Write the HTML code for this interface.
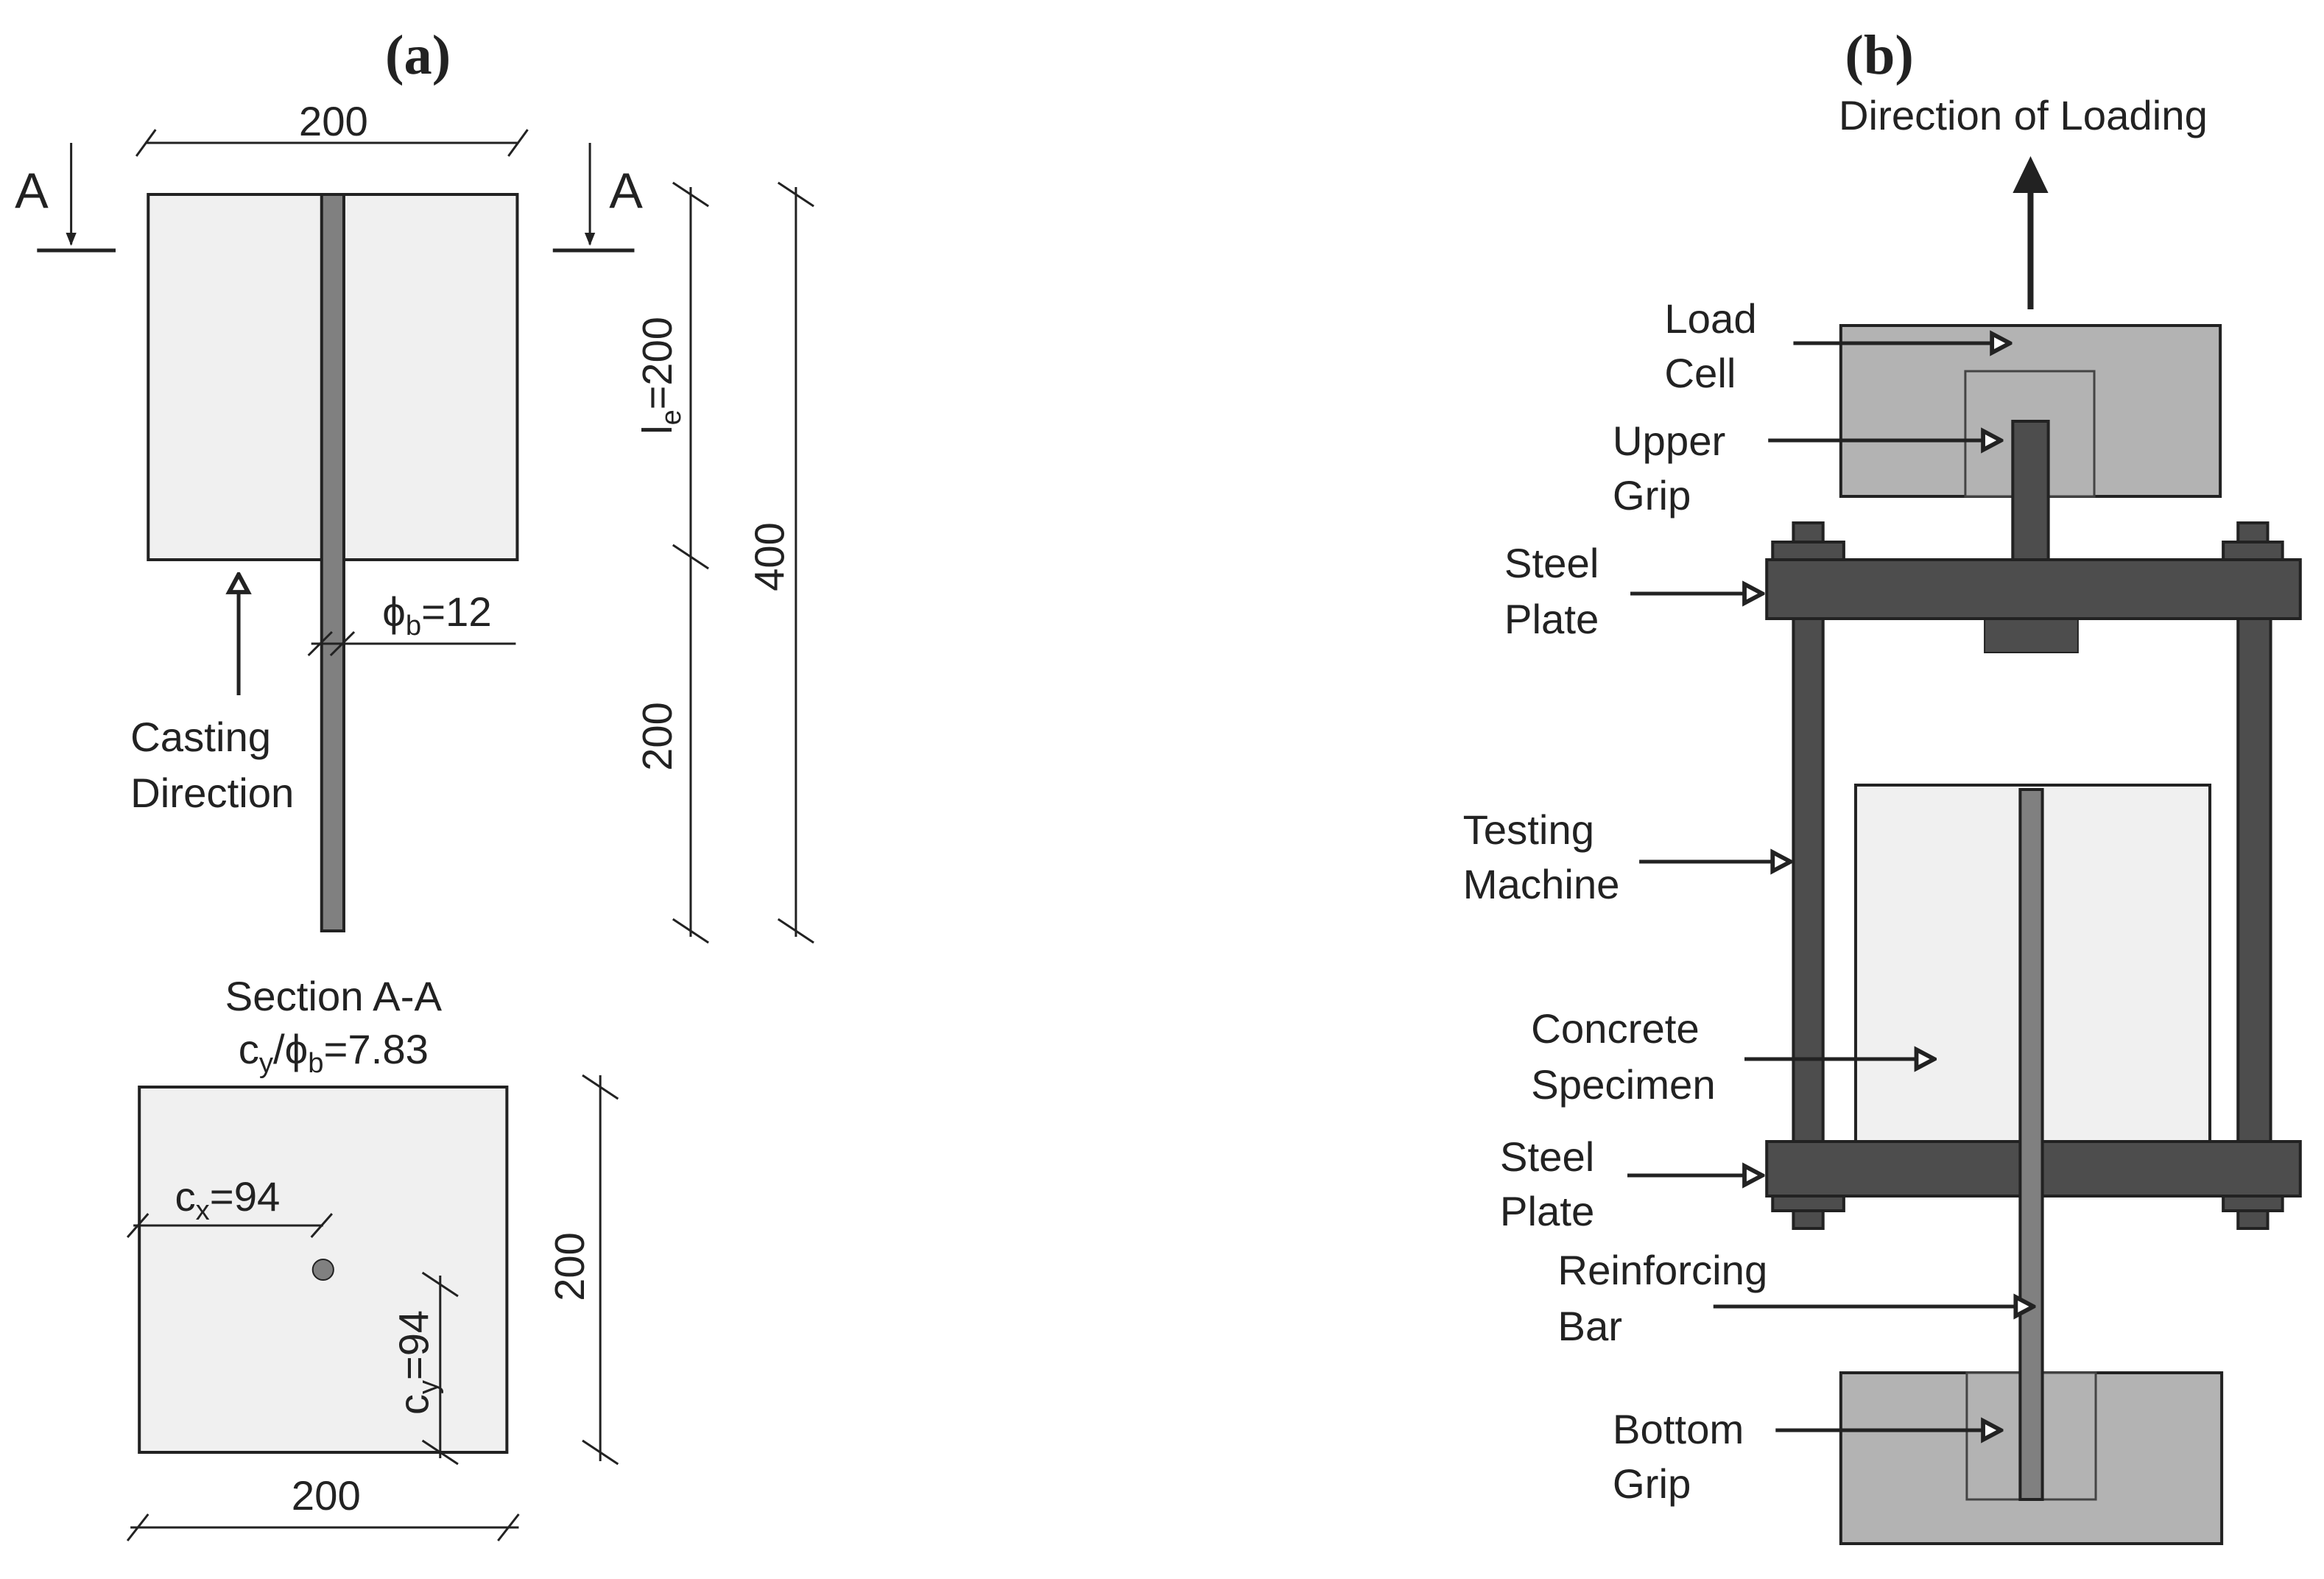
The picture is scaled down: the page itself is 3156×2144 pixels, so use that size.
<!DOCTYPE html>
<html><head><meta charset="utf-8"><style>html,body{margin:0;padding:0;background:#fff}svg{display:block}</style></head>
<body>
<svg width="3156" height="2144" viewBox="0 0 1568 1072" preserveAspectRatio="none" xmlns="http://www.w3.org/2000/svg" font-family="Liberation Sans, sans-serif" fill="#222">
<defs>
<marker id="h" viewBox="0 0 10 10" refX="9" refY="5" markerWidth="16" markerHeight="18" markerUnits="userSpaceOnUse" orient="auto"><path d="M1.5,1 L9,5 L1.5,9 Z" fill="#fff" stroke="#222" stroke-width="1.8"/></marker>
<marker id="s" viewBox="0 0 10 10" refX="9" refY="5" markerWidth="9" markerHeight="9" markerUnits="userSpaceOnUse" orient="auto"><path d="M0,1 L10,5 L0,9 Z" fill="#222"/></marker>
</defs>
<g stroke="#222" stroke-width="2" fill="none">
<!-- panel a -->
<rect x="100" y="132" width="249" height="248" fill="#f0f0f0"/>
<rect x="217" y="132" width="15" height="500" fill="#808080"/>
<line x1="98" y1="97" x2="350" y2="97" stroke-width="1.5"/>
<line x1="92" y1="106" x2="105" y2="88" stroke-width="1.5"/><line x1="343" y1="106" x2="356" y2="88" stroke-width="1.5"/>
<line x1="48" y1="97" x2="48" y2="166" stroke-width="1.5" marker-end="url(#s)"/>
<line x1="25" y1="170" x2="78" y2="170" stroke-width="2.5"/>
<line x1="398" y1="97" x2="398" y2="166" stroke-width="1.5" marker-end="url(#s)"/>
<line x1="373" y1="170" x2="428" y2="170" stroke-width="2.5"/>
<line x1="161" y1="472" x2="161" y2="390" stroke-width="2.5" marker-end="url(#h)"/>
<line x1="210" y1="437" x2="348" y2="437" stroke-width="1.5"/>
<line x1="208" y1="445" x2="224" y2="429" stroke-width="1.5"/><line x1="223" y1="445" x2="239" y2="429" stroke-width="1.5"/>
<line x1="466" y1="127" x2="466" y2="636" stroke-width="1.5"/>
<line x1="454" y1="124" x2="478" y2="140" stroke-width="1.5"/><line x1="454" y1="370" x2="478" y2="386" stroke-width="1.5"/><line x1="454" y1="624" x2="478" y2="640" stroke-width="1.5"/>
<line x1="537" y1="127" x2="537" y2="636" stroke-width="1.5"/>
<line x1="525" y1="124" x2="549" y2="140" stroke-width="1.5"/><line x1="525" y1="624" x2="549" y2="640" stroke-width="1.5"/>
<rect x="94" y="738" width="248" height="248" fill="#f0f0f0"/>
<line x1="90" y1="832" x2="218" y2="832" stroke-width="1.5"/>
<line x1="86" y1="840" x2="100" y2="824" stroke-width="1.5"/><line x1="210" y1="840" x2="224" y2="824" stroke-width="1.5"/>
<circle cx="218" cy="862" r="7" fill="#808080" stroke-width="1"/>
<line x1="297" y1="866" x2="297" y2="990" stroke-width="1.5"/>
<line x1="285" y1="864" x2="309" y2="880" stroke-width="1.5"/><line x1="285" y1="978" x2="309" y2="994" stroke-width="1.5"/>
<line x1="405" y1="730" x2="405" y2="992" stroke-width="1.5"/>
<line x1="393" y1="730" x2="417" y2="746" stroke-width="1.5"/><line x1="393" y1="978" x2="417" y2="994" stroke-width="1.5"/>
<line x1="88" y1="1037" x2="350" y2="1037" stroke-width="1.5"/>
<line x1="86" y1="1046" x2="100" y2="1028" stroke-width="1.5"/><line x1="336" y1="1046" x2="350" y2="1028" stroke-width="1.5"/>
<!-- panel b -->
<line x1="1370" y1="210" x2="1370" y2="125" stroke-width="4"/>
<path d="M1358,131 L1370,106 L1382,131 Z" fill="#222" stroke="none"/>
<rect x="1242" y="221" width="256" height="116" fill="#b3b3b3"/>
<rect x="1326" y="252" width="87" height="85" fill="#b3b3b3" stroke="#444" stroke-width="1.5"/>
<rect x="1358" y="286" width="24" height="94" fill="#4d4d4d"/>
<rect x="1210" y="355" width="20" height="13" fill="#4d4d4d"/><rect x="1196" y="368" width="48" height="12" fill="#4d4d4d"/>
<rect x="1510" y="355" width="20" height="13" fill="#4d4d4d"/><rect x="1500" y="368" width="40" height="12" fill="#4d4d4d"/>
<rect x="1210" y="420" width="20" height="355" fill="#4d4d4d"/>
<rect x="1510" y="420" width="22" height="355" fill="#4d4d4d"/>
<rect x="1339" y="420" width="63" height="23" fill="#4d4d4d" stroke-width="1"/>
<rect x="1192" y="380" width="360" height="40" fill="#4d4d4d"/>
<rect x="1252" y="533" width="239" height="242" fill="#f0f0f0"/>
<rect x="1192" y="775" width="360" height="37" fill="#4d4d4d"/>
<rect x="1196" y="812" width="48" height="10" fill="#4d4d4d"/><rect x="1210" y="822" width="20" height="12" fill="#4d4d4d"/>
<rect x="1500" y="812" width="40" height="10" fill="#4d4d4d"/><rect x="1510" y="822" width="20" height="12" fill="#4d4d4d"/>
<rect x="1242" y="932" width="257" height="116" fill="#b3b3b3"/>
<rect x="1327" y="932" width="87" height="86" fill="#b3b3b3" stroke="#444" stroke-width="1.5"/>
<rect x="1363" y="536" width="15" height="482" fill="#808080"/>
<g stroke-width="2.5">
<line x1="1210" y1="233" x2="1356" y2="233" marker-end="url(#h)"/>
<line x1="1193" y1="299" x2="1350" y2="299" marker-end="url(#h)"/>
<line x1="1100" y1="403" x2="1189" y2="403" marker-end="url(#h)"/>
<line x1="1106" y1="585" x2="1208" y2="585" marker-end="url(#h)"/>
<line x1="1177" y1="719" x2="1305" y2="719" marker-end="url(#h)"/>
<line x1="1098" y1="798" x2="1189" y2="798" marker-end="url(#h)"/>
<line x1="1156" y1="887" x2="1372" y2="887" marker-end="url(#h)"/>
<line x1="1198" y1="971" x2="1350" y2="971" marker-end="url(#h)"/>
</g>
</g>
<g font-size="28">
<text x="282" y="50" font-family="Liberation Serif, serif" font-size="38" font-weight="bold" text-anchor="middle">(a)</text>
<text x="225" y="92" text-anchor="middle">200</text>
<text x="10" y="141" font-size="34">A</text>
<text x="411" y="141" font-size="34">A</text>
<text x="88" y="510">Casting</text>
<text x="88" y="548">Direction</text>
<text x="258" y="425">ϕ<tspan font-size="19" dy="6">b</tspan><tspan dy="-6">=12</tspan></text>
<text transform="translate(453,255) rotate(-90)" text-anchor="middle">l<tspan font-size="19" dy="6">e</tspan><tspan dy="-6">=200</tspan></text>
<text transform="translate(453,500) rotate(-90)" text-anchor="middle">200</text>
<text transform="translate(529,378) rotate(-90)" text-anchor="middle">400</text>
<text x="225" y="686" text-anchor="middle">Section A-A</text>
<text x="225" y="722" text-anchor="middle">c<tspan font-size="19" dy="6">y</tspan><tspan dy="-6">/ϕ</tspan><tspan font-size="19" dy="6">b</tspan><tspan dy="-6">=7.83</tspan></text>
<text x="118" y="822">c<tspan font-size="19" dy="6">x</tspan><tspan dy="-6">=94</tspan></text>
<text transform="translate(289,925) rotate(-90)" text-anchor="middle">c<tspan font-size="19" dy="6">y</tspan><tspan dy="-6">=94</tspan></text>
<text transform="translate(394,860) rotate(-90)" text-anchor="middle">200</text>
<text x="220" y="1025" text-anchor="middle">200</text>
<text x="1268" y="50" font-family="Liberation Serif, serif" font-size="38" font-weight="bold" text-anchor="middle">(b)</text>
<text x="1365" y="88" text-anchor="middle">Direction of Loading</text>
<text x="1123" y="226">Load</text><text x="1123" y="263">Cell</text>
<text x="1088" y="309">Upper</text><text x="1088" y="346">Grip</text>
<text x="1015" y="392">Steel</text><text x="1015" y="430">Plate</text>
<text x="987" y="573">Testing</text><text x="987" y="610">Machine</text>
<text x="1033" y="708">Concrete</text><text x="1033" y="746">Specimen</text>
<text x="1012" y="795">Steel</text><text x="1012" y="832">Plate</text>
<text x="1051" y="872">Reinforcing</text><text x="1051" y="910">Bar</text>
<text x="1088" y="980">Bottom</text><text x="1088" y="1017">Grip</text>
</g>
</svg>
</body></html>
